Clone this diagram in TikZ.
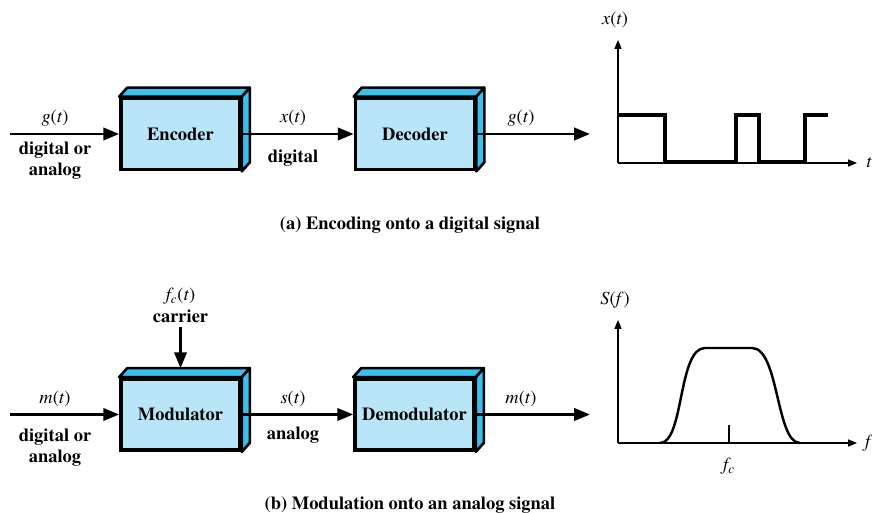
\documentclass[tikz,border=0pt]{standalone}
\usepackage{fontspec}
\setmainfont{texgyretermes}[Extension=.otf,UprightFont=*-regular,BoldFont=*-bold,ItalicFont=*-italic,BoldItalicFont=*-bolditalic]
\usetikzlibrary{calc,arrows.meta}

\begin{document}
\begin{tikzpicture}[x=0.02cm,y=-0.02cm]
	\tikzset{blockbox/.style={draw=black,line width=2.1pt,fill=front,minimum width=2.38cm,minimum height=1.42cm,inner sep=0pt,font=\fontsize{10.5}{12}\selectfont\bfseries},
		depthface/.style={draw=black,line width=1.5pt,fill=side,line join=round},
		sig/.style={line width=1.6pt,-{Triangle[length=9pt,width=7pt]}},
		axis/.style={line width=0.6pt,-{Triangle[length=5pt,width=4pt]}},
		lbl/.style={font=\fontsize{10.5}{12}\selectfont\bfseries,align=center,inner sep=0pt},
		var/.style={font=\fontsize{10.5}{12}\selectfont,inner sep=0pt}}
	\definecolor{front}{RGB}{185,229,249}
	\definecolor{side}{RGB}{58,192,236}
	\def\dx{8} \def\dy{9}% depth of the boxes
	\useasboundingbox (0,0) rectangle (872,513);
	% blocks
	\node[blockbox] (enc) at (180.5,134) {Encoder};
	\node[blockbox] (dec) at (415,134) {Decoder};
	\node[blockbox] (mod) at (180.5,414.5) {Modulator};
	\node[blockbox] (dem) at (414.5,414.5) {Demodulator};
	\foreach \b in {enc,dec,mod,dem} {
		\draw[depthface] (\b.north west) -- ++(\dx,-\dy) -- ($(\b.north east)+(\dx,-\dy)$) -- (\b.north east) -- cycle;
		\draw[depthface] (\b.north east) -- ++(\dx,-\dy) -- ($(\b.south east)+(\dx,-\dy)$) -- (\b.south east) -- cycle;
	}
	% free ends
	\coordinate (inA) at (10,134);
	\coordinate (outA) at (590,134);
	\coordinate (inB) at (10,414.5);
	\coordinate (outB) at (590,414.5);
	\coordinate (carr) at (180.5,327);
	\draw[sig] (inA) -- (enc.west);
	\draw[sig] (enc.east) -- (dec.west);
	\draw[sig] (dec.east) -- (outA);
	\draw[sig] (inB) -- (mod.west);
	\draw[sig] (mod.east) -- (dem.west);
	\draw[sig] (dem.east) -- (outB);
	\draw[sig] (carr) -- ($(mod.north)+(0,-\dy)$);
	% labels
	\node[var] (gin) at (55,118) {\textit{g}(\textit{t})};
	\node[lbl] (typin) at (55,161) {digital or\\analog};
	\node[var] (xt) at (293,118) {\textit{x}(\textit{t})};
	\node[lbl] (typx) at (293,158) {digital};
	\node[var] (gout) at (521,118) {\textit{g}(\textit{t})};
	\node[var] (min) at (55,399) {\textit{m}(\textit{t})};
	\node[lbl] (typm) at (55,448) {digital or\\analog};
	\node[var] (st) at (293,399) {\textit{s}(\textit{t})};
	\node[lbl] (typs) at (293,435) {analog};
	\node[var] (mout) at (521,399) {\textit{m}(\textit{t})};
	\node[var] (fct) at (180.5,296) {\textit{f\textsubscript{c}}(\textit{t})};
	\node[lbl] (carrier) at (180.5,316) {carrier};
	\node[lbl] (capA) at (410,225) {(a) Encoding onto a digital signal};
	\node[lbl] (capB) at (410,505) {(b) Modulation onto an analog signal};
	% digital signal plot
	\coordinate (oA) at (618,163);
	\draw[axis] (oA) -- (618,40);
	\draw[axis] (oA) -- (857,163);
	\node[var] (xlab) at (615,20) {\textit{x}(\textit{t})};
	\node[var] (tlab) at (869,163) {\textit{t}};
	\draw[line width=1.9pt,line join=miter] (618,115) -- (665,115) -- (665,162) -- (736,162) -- (736,115)
		-- (759,115) -- (759,162) -- (805,162) -- (805,115) -- (828,115);
	% spectrum plot
	\coordinate (oB) at (618,443);
	\draw[axis] (oB) -- (618,320);
	\draw[axis] (oB) -- (857,443);
	\node[var] (slab) at (615,300) {\textit{S}(\textit{f})};
	\node[var] (flab) at (869,443) {\textit{f}};
	\draw[line width=1.4pt] (660,443) .. controls (684,443) and (678,348) .. (705,348) -- (752,348)
		.. controls (779,348) and (776,443) .. (800,443);
	\draw[line width=0.7pt] (729,425) -- (729,443);
	\node[var] (fclab) at (729,466) {\textit{f\textsubscript{c}}};
\end{tikzpicture}
\end{document}
